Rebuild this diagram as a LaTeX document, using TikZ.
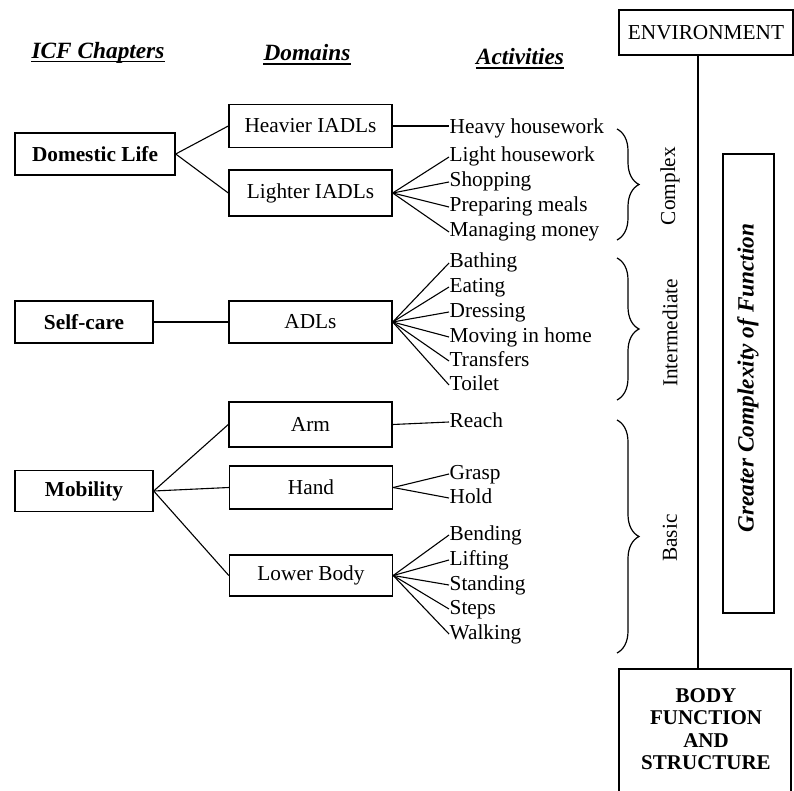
\documentclass[tikz,border=0pt]{standalone}
\usepackage{fontspec}
\setmainfont{Liberation Serif}
\usetikzlibrary{decorations.pathreplacing}
\begin{document}
\begin{tikzpicture}[x=1pt,y=-1pt,
  every node/.style={font=\fontsize{21.3}{22.5}\selectfont},
  box/.style={draw, line width=1.4pt, inner sep=0pt, minimum height=43pt},
  dombox/.style={box, minimum width=163pt},
  chapbox/.style={box, font=\fontsize{21.3}{22.5}\selectfont\bfseries},
  act/.style={anchor=west, inner sep=0.5pt, text height=15pt, text depth=5pt},
  conn/.style={line width=1.1pt},
  hdr/.style={inner sep=0pt, font=\fontsize{23.3}{25}\selectfont\bfseries\itshape},
  ul/.style={line width=1.6pt},
  brc/.style={decorate, decoration={brace, amplitude=22pt}, line width=1.2pt},
  lvl/.style={rotate=90}
]
\clip (0,0) rectangle (794,791);

% headers
\node[hdr] (hicf) at (98,53) {ICF Chapters};
\node[hdr] (hdom) at (307,53) {Domains};
\node[hdr] (hact) at (520,57) {Activities};
\foreach \h in {hicf,hdom,hact}
  \draw[ul] ([yshift=-3pt]\h.base west) -- ([yshift=-3pt]\h.base east);

% chapters
\node[chapbox, minimum width=160pt, minimum height=42pt] (dl) at (95,154) {Domestic Life};
\node[chapbox, minimum width=138pt, minimum height=42pt] (sc) at (84,322) {Self-care};
\node[chapbox, minimum width=138pt, minimum height=41pt] (mob) at (84,491) {Mobility};

% domains
\node[dombox] (hi) at (310.5,126) {Heavier IADLs};
\node[dombox, minimum height=46pt] (li) at (310.5,193) {Lighter IADLs};
\node[dombox, minimum height=42pt] (adl) at (310.5,322) {ADLs};
\node[dombox, minimum height=45pt] (arm) at (310.5,424.5) {Arm};
\node[dombox] (hand) at (311,487.5) {Hand};
\node[dombox, minimum height=41pt] (lb) at (311,575.5) {Lower Body};

% activities
\node[act] (a1) at (449,129) {Heavy housework};
\node[act] (a2) at (449,157) {Light housework};
\node[act] (a3) at (449,182) {Shopping};
\node[act] (a4) at (449,207) {Preparing meals};
\node[act] (a5) at (449,232) {Managing money};
\node[act] (b1) at (449,263) {Bathing};
\node[act] (b2) at (449,287) {Eating};
\node[act] (b3) at (449,312) {Dressing};
\node[act] (b4) at (449,337) {Moving in home};
\node[act] (b5) at (449,361) {Transfers};
\node[act] (b6) at (449,385) {Toilet};
\node[act] (c1) at (449,422) {Reach};
\node[act] (c2) at (449,474) {Grasp};
\node[act] (c3) at (449,498) {Hold};
\node[act] (d1) at (449,535) {Bending};
\node[act] (d2) at (449,560) {Lifting};
\node[act] (d3) at (449,585) {Standing};
\node[act] (d4) at (449,609) {Steps};
\node[act] (d5) at (449,634) {Walking};

% connectors
\draw[conn] (dl.east) -- (hi.west);
\draw[conn] (dl.east) -- (li.west);
\draw[conn] (sc.east) -- (adl.west);
\draw[conn] (mob.east) -- (arm.west);
\draw[conn] (mob.east) -- (hand.west);
\draw[conn] (mob.east) -- (lb.west);
\draw[conn] (hi.east) -- (hi.east -| a1.west);
\foreach \t in {a2,a3,a4,a5} \draw[conn] (li.east) -- (\t.west);
\foreach \t in {b1,b2,b3,b4,b5,b6} \draw[conn] (adl.east) -- (\t.west);
\draw[conn] (arm.east) -- (c1.west);
\foreach \t in {c2,c3} \draw[conn] (hand.east) -- (\t.west);
\foreach \t in {d1,d2,d3,d4,d5} \draw[conn] (lb.east) -- (\t.west);

% braces
\coordinate (k1) at (617,129);
\coordinate (k2) at (617,240);
\coordinate (k3) at (617,258);
\coordinate (k4) at (617,400);
\coordinate (k5) at (617,420);
\coordinate (k6) at (617,653);
\draw[brc] (k1) -- (k2);
\draw[brc] (k3) -- (k4);
\draw[brc] (k5) -- (k6);
\node[lvl] (lcx) at (670,186) {Complex};
\node[lvl] (lint) at (670,333) {Intermediate};
\node[lvl] (lbas) at (670,538) {Basic};

% right column
\node[box, minimum width=174pt, minimum height=45pt] (env) at (706,32.5) {ENVIRONMENT};
\node[box, minimum width=172pt, minimum height=161pt] (body) at (705,749.5) {};
\node[align=center, font=\fontsize{21}{22.5}\selectfont\bfseries] (bt) at (706,729) {BODY\\FUNCTION\\AND\\STRUCTURE};
\coordinate (vx) at (698,0);
\draw[conn] (env.south -| vx) -- (body.north -| vx);
\node[box, minimum width=51pt, minimum height=459pt] (gc) at (748.5,383.5) {};
\node[rotate=90, font=\fontsize{23.3}{25}\selectfont\bfseries\itshape] (gct) at (748,378) {Greater Complexity of Function};
\end{tikzpicture}
\end{document}
